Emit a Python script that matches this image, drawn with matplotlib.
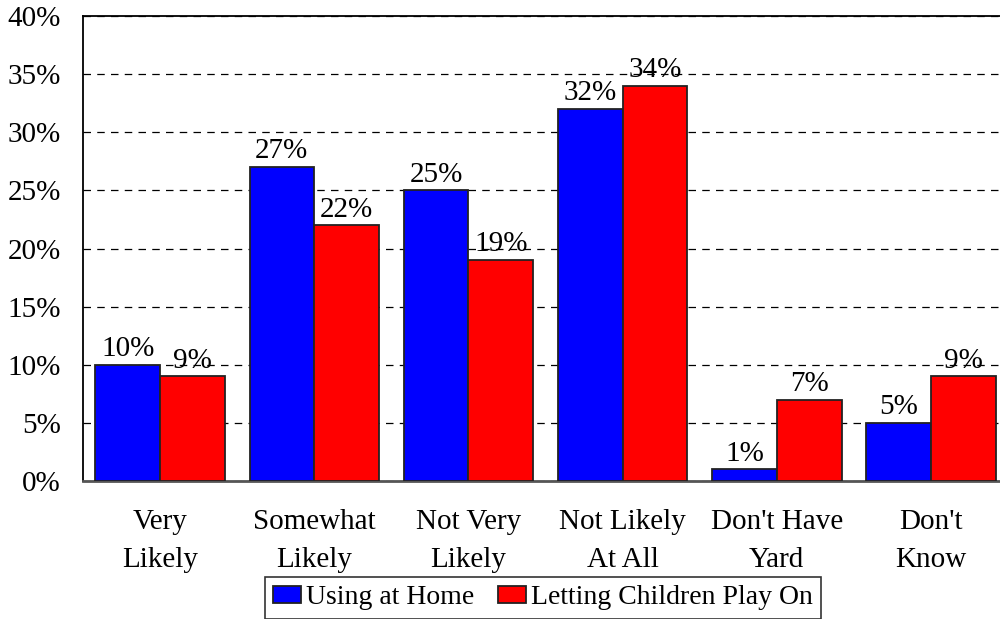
import numpy as np
import matplotlib
matplotlib.use("Agg")
import matplotlib.pyplot as plt
from matplotlib.ticker import FuncFormatter

plt.rcParams['font.family'] = ['Liberation Serif', 'DejaVu Serif']

categories = ["Very\nLikely", "Somewhat\nLikely", "Not Very\nLikely",
              "Not Likely\nAt All", "Don't Have\nYard", "Don't\nKnow"]
using_at_home = [10, 27, 25, 32, 1, 5]
children_play = [9, 22, 19, 34, 7, 9]
series_names = ["Using at Home", "Letting Children Play On"]

fig = plt.figure(figsize=(10, 6.19), dpi=100)
ax = fig.add_axes([0.083, 0.223, 0.925, 0.751])

x = np.arange(len(categories))
w = 0.42
fs = 21

b1 = ax.bar(x - w / 2, using_at_home, w, color="#0000ff", edgecolor="#222222",
            linewidth=1.3, label=series_names[0], zorder=3)
b2 = ax.bar(x + w / 2, children_play, w, color="#ff0000", edgecolor="#222222",
            linewidth=1.3, label=series_names[1], zorder=3)

for bars, vals in ((b1, using_at_home), (b2, children_play)):
    for bar, v in zip(bars, vals):
        ax.text(bar.get_x() + bar.get_width() / 2, v + 0.75, f"{v}%",
                ha="center", va="baseline", fontsize=fs, zorder=4)

ax.set_xlim(-0.5, len(categories) - 0.5)
ax.set_ylim(0, 40)
ax.set_yticks(range(0, 41, 5))
ax.yaxis.set_major_formatter(FuncFormatter(lambda v, p: f"{int(v)}%"))
ax.set_xticks(x)
ax.set_xticklabels(categories, fontsize=fs, linespacing=1.6)
ax.tick_params(axis="x", length=0, pad=20)
ax.tick_params(axis="y", length=0, pad=16, labelsize=fs)

ax.grid(axis="y", color="black", linestyle=(0, (6, 5)), linewidth=0.9, zorder=0)
for s in ("left", "top"):
    ax.spines[s].set_color("black")
    ax.spines[s].set_linewidth(1.3)
ax.spines["right"].set_visible(False)
ax.spines["bottom"].set_color("#555555")
ax.spines["bottom"].set_linewidth(2)

# legend sits under the tick labels and runs off the bottom edge
leg = fig.legend(loc="upper center", bbox_to_anchor=(0.543, 0.068), ncol=2,
                 fontsize=20, frameon=True, fancybox=False, shadow=False,
                 handlelength=1.0, handleheight=0.6, handletextpad=0.18,
                 columnspacing=0.86, borderpad=0.3, borderaxespad=0)
leg.get_frame().set_edgecolor("black")
leg.get_frame().set_linewidth(1.2)

fig.savefig("out.png", dpi=100)
